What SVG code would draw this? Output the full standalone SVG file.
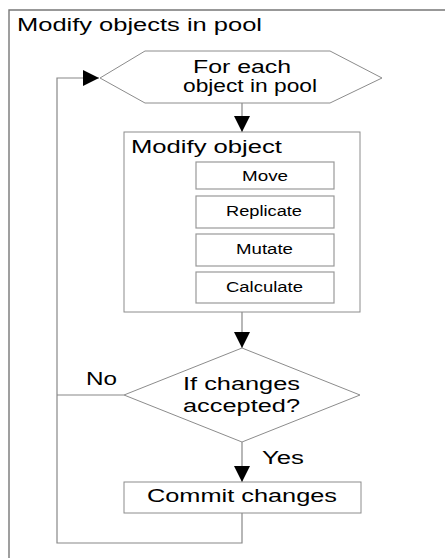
<svg xmlns="http://www.w3.org/2000/svg" width="445" height="558" viewBox="0 0 445 558">
<style>
text{font-family:"Liberation Sans",Arial,sans-serif;fill:#000}
.big{font-size:17.5px}
.small{font-size:14px}
.shape{fill:#fff;stroke:#8c8c8c;stroke-width:1}
.sub{fill:#fff;stroke:#999;stroke-width:1.2}
.conn{fill:none;stroke:#888;stroke-width:1.2}
.frame{fill:none;stroke:#777;stroke-width:1.4}
</style>
<defs>
<marker id="arr" markerUnits="userSpaceOnUse" markerWidth="16" markerHeight="16" viewBox="0 0 14 14" refX="14" refY="7" orient="auto">
<path d="M0,0 L14,7 L0,14 Z" fill="#000"/>
</marker>
</defs>
<rect width="445" height="558" fill="#fff"/>
<g id="frame">
<path class="frame" d="M9,560 V10 H446"/>
<text class="big" x="17" y="31" textLength="245" lengthAdjust="spacingAndGlyphs">Modify objects in pool</text>
</g>
<g id="connectors">
<path class="conn" d="M242,103 V132" marker-end="url(#arr)"/>
<path class="conn" d="M242,312 V348" marker-end="url(#arr)"/>
<path class="conn" d="M242,442 V482" marker-end="url(#arr)"/>
<path class="conn" d="M124,395 H57"/>
<path class="conn" d="M242,513 V543 H57 V78 H99" marker-end="url(#arr)"/>
<text class="big" x="86" y="385" textLength="31" lengthAdjust="spacingAndGlyphs">No</text>
<text class="big" x="262" y="464" textLength="42" lengthAdjust="spacingAndGlyphs">Yes</text>
</g>
<g id="loop">
<polygon class="shape" points="100,78 145,51 330,51 382,78 330,103 145,103"/>
<text class="big" x="193" y="73" textLength="98" lengthAdjust="spacingAndGlyphs">For each</text>
<text class="big" x="183" y="92" textLength="134" lengthAdjust="spacingAndGlyphs">object in pool</text>
</g>
<g id="modify-object">
<rect class="shape" x="124" y="132" width="236" height="180"/>
<text class="big" x="131" y="153" textLength="151" lengthAdjust="spacingAndGlyphs">Modify object</text>
</g>
<g id="move">
<rect class="sub" x="196" y="162" width="138" height="27"/>
<text class="small" x="242" y="181" textLength="46" lengthAdjust="spacingAndGlyphs">Move</text>
</g>
<g id="replicate">
<rect class="sub" x="196" y="196" width="138" height="32"/>
<text class="small" x="226" y="216" textLength="76" lengthAdjust="spacingAndGlyphs">Replicate</text>
</g>
<g id="mutate">
<rect class="sub" x="196" y="234" width="138" height="32"/>
<text class="small" x="236" y="254" textLength="57" lengthAdjust="spacingAndGlyphs">Mutate</text>
</g>
<g id="calculate">
<rect class="sub" x="196" y="272" width="138" height="31"/>
<text class="small" x="226" y="292" textLength="77" lengthAdjust="spacingAndGlyphs">Calculate</text>
</g>
<g id="decision">
<polygon class="shape" points="242,348 360,395 242,442 124,395"/>
<text class="big" x="183" y="390" textLength="117" lengthAdjust="spacingAndGlyphs">If changes</text>
<text class="big" x="183" y="412" textLength="117" lengthAdjust="spacingAndGlyphs">accepted?</text>
</g>
<g id="commit">
<rect class="shape" x="124" y="482" width="237" height="31"/>
<text class="big" x="147" y="502" textLength="190" lengthAdjust="spacingAndGlyphs">Commit changes</text>
</g>
</svg>
